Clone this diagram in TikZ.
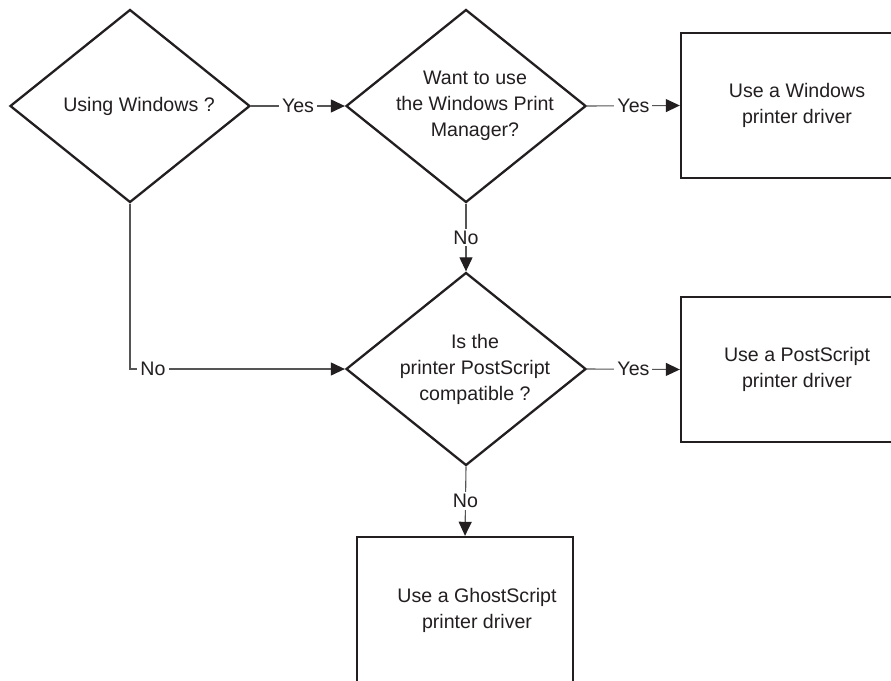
\documentclass[tikz,border=0pt]{standalone}
\usepackage{fontspec}
\setmainfont{Liberation Sans}
\usetikzlibrary{shapes.geometric,arrows.meta}
\definecolor{ink}{HTML}{231F20}
\definecolor{conn}{HTML}{555555}
\definecolor{txt}{HTML}{231F20}
\begin{document}
\begin{tikzpicture}[x=1pt,y=-1pt,
  txtfont/.style={font=\fontsize{19.6}{26}\selectfont, text=txt},
  dlabel/.style={txtfont, align=center, xshift=9pt},
  decision/.style={draw=ink, line width=2.3pt, shape=diamond, aspect=1.24,
    minimum width=240pt, minimum height=193pt, inner sep=0pt},
  action/.style={draw=ink, line width=2.4pt, rectangle, inner sep=0pt},
  connector/.style={draw=conn, line width=1.1pt, -{Triangle[length=14pt,width=13pt,color=ink]}},
  lbl/.style={txtfont, fill=white, inner xsep=3pt, inner ysep=2pt}
]
\useasboundingbox (0,0) rectangle (891,680);
\clip (0,0) rectangle (891,680);
\fill[white] (0,0) rectangle (891,680);

\node[decision, label={[dlabel]center:Using Windows ?}] (d1) at (130,106) {};
\node[decision, label={[dlabel]center:Want to use\\the Windows Print\\Manager?}] (d2) at (466,106) {};
\node[decision, label={[dlabel]center:Is the\\printer PostScript\\compatible ?}] (d3) at (466,369) {};

\node[action, minimum width=232pt, minimum height=145pt,
  label={[txtfont,align=center]center:Use a Windows\\printer driver}] (b1) at (797,105.5) {};
\node[action, minimum width=232pt, minimum height=145pt,
  label={[txtfont,align=center]center:Use a PostScript\\printer driver}] (b2) at (797,369.5) {};
\node[action, minimum width=216pt, minimum height=170pt,
  label={[txtfont,align=center,xshift=12pt,yshift=12pt]center:Use a GhostScript\\printer driver}] (b3) at (465,622) {};

\coordinate (c1) at (d1.south |- d3.west);

\draw[connector] (d1.east) -- node[lbl]{Yes} (d2.west);
\draw[connector] (d2.east) -- node[lbl]{Yes} (b1.west);
\draw[connector] (d2.south) -- node[lbl]{No} (d3.north);
\draw[connector] (d3.east) -- node[lbl]{Yes} (b2.west);
\draw[connector] (d3.south) -- node[lbl]{No} (b3.north);
\draw[connector] (d1.south) -- (c1) -- node[lbl,pos=0.107]{No} (d3.west);
\end{tikzpicture}
\end{document}
